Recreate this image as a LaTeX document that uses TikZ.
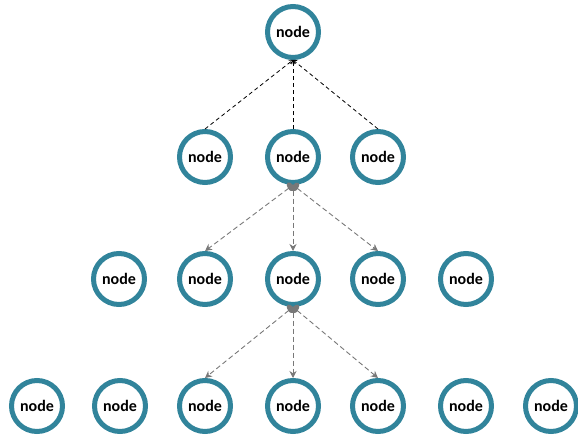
\documentclass[tikz,border=0pt]{standalone}
\usepackage{fontspec}
\setmainfont{Carlito}
\usetikzlibrary{arrows.meta}
\definecolor{ring}{RGB}{49,132,155}
\definecolor{linkgray}{RGB}{120,120,120}
\tikzset{
  treenode/.style={circle, draw=ring, line width=5pt, fill=white,
    minimum size=51pt, inner sep=0pt, font=\bfseries\fontsize{16}{18}\selectfont},
  uplink/.style={black, line width=0.8pt, dash pattern=on 4pt off 3pt,
    -{Straight Barb[length=3pt,width=5pt]}},
  downlink/.style={linkgray, line width=0.9pt, dash pattern=on 5pt off 3pt,
    {Circle[length=6pt,width=10pt]}-{Stealth[length=7pt,width=7pt]}}
}
\begin{document}
\begin{tikzpicture}[x=1pt,y=-1pt]
\useasboundingbox (0,0) rectangle (578,439);
% level 0
\node[treenode] (r)  at (293,32) {node};
% level 1
\node[treenode] (a1) at (205,157) {node};
\node[treenode] (a2) at (293,157) {node};
\node[treenode] (a3) at (378,157) {node};
% level 2
\node[treenode] (b1) at (119,279) {node};
\node[treenode] (b2) at (205,279) {node};
\node[treenode] (b3) at (293,279) {node};
\node[treenode] (b4) at (378,279) {node};
\node[treenode] (b5) at (466,279) {node};
% level 3
\node[treenode] (c1) at (37,406) {node};
\node[treenode] (c2) at (120,406) {node};
\node[treenode] (c3) at (205,406) {node};
\node[treenode] (c4) at (293,406) {node};
\node[treenode] (c5) at (378,406) {node};
\node[treenode] (c6) at (466,406) {node};
\node[treenode] (c7) at (551,406) {node};
% links up to the root
\draw[uplink] (a1.north) -- (r.south);
\draw[uplink] (a2.north) -- (r.south);
\draw[uplink] (a3.north) -- (r.south);
% links down from the middle nodes
\foreach \p/\c in {a2/b2,a2/b3,a2/b4,b3/c3,b3/c4,b3/c5}
  \draw[downlink] (\p.south) -- (\c.north);
\end{tikzpicture}
\end{document}
